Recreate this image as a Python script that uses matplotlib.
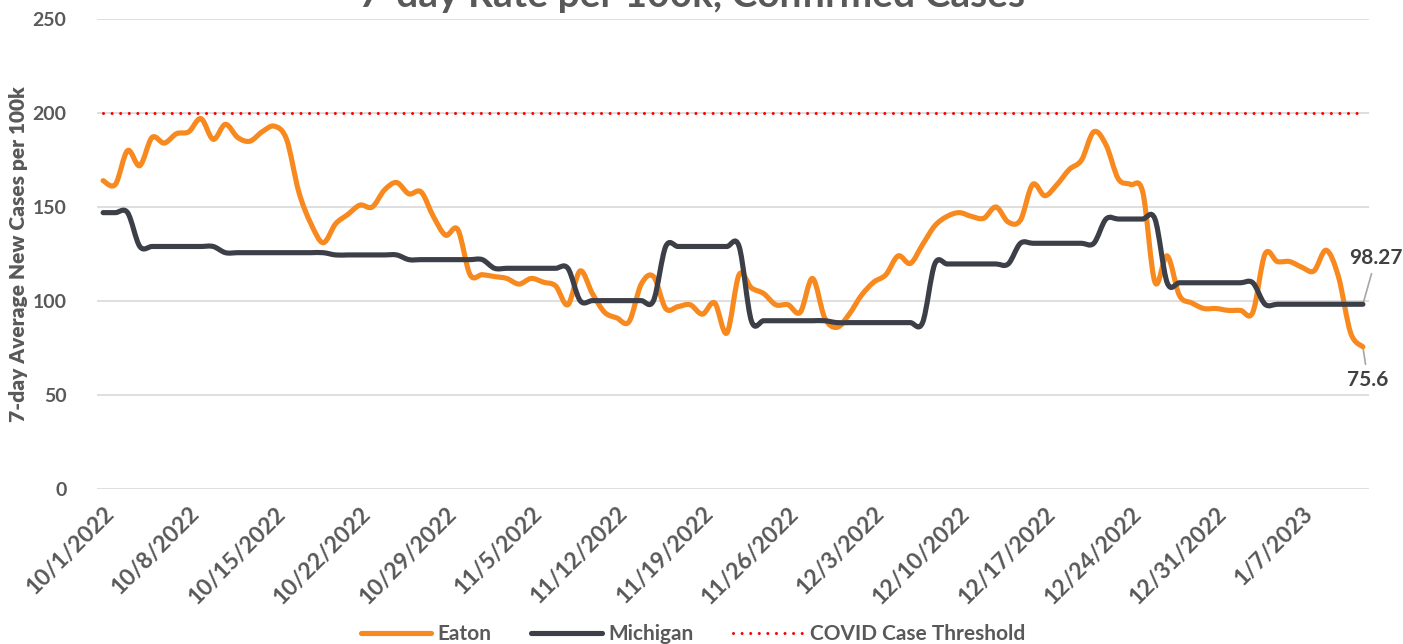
import numpy as np
import pandas as pd
import matplotlib
import matplotlib.pyplot as plt
import matplotlib.dates as mdates
from matplotlib.path import Path
from matplotlib.patches import PathPatch
from matplotlib.lines import Line2D

plt.switch_backend('agg')
plt.rcParams['font.family'] = ['Lato', 'DejaVu Sans']

# data
start_date = '2022-10-01'
eaton = [164, 162, 180, 172, 187, 184, 189, 190, 197, 186,
         194, 187, 185, 190, 193, 186, 158, 141, 131, 141,
         146, 151, 150, 159, 163, 157, 158, 145, 135, 138,
         114, 114, 113, 112, 109, 112, 110, 108, 98, 116,
         104, 94, 91, 89, 109, 113, 96, 97, 98, 93,
         99, 83, 114, 107, 104, 98, 98, 94, 112, 91,
         86, 93, 103, 110, 114, 124, 120, 130, 140, 145,
         147, 145, 144, 150, 142, 143, 162, 156, 162, 170,
         175, 190, 183, 165, 162, 158, 110, 124, 103, 99,
         96, 96, 95, 95, 94, 125, 121, 121, 118, 116,
         127, 113, 83, 75.6]
michigan = [147, 147, 147,
            129, 129, 129, 129, 129, 129, 129,
            125.7, 125.7, 125.7, 125.7, 125.7, 125.7, 125.7, 125.7, 125.7,
            124.5, 124.5, 124.5, 124.5, 124.5, 124.5,
            122, 122, 122, 122, 122, 122, 122,
            117.4, 117.4, 117.4, 117.4, 117.4, 117.4, 117.4,
            100.2, 100.2, 100.2, 100.2, 100.2, 100.2, 100.2,
            129, 129, 129, 129, 129, 129, 129,
            89.5, 89.5, 89.5, 89.5, 89.5, 89.5, 89.5,
            88.5, 88.5, 88.5, 88.5, 88.5, 88.5, 88.5, 88.5,
            119.7, 119.7, 119.7, 119.7, 119.7, 119.7, 119.7,
            130.7, 130.7, 130.7, 130.7, 130.7, 130.7, 130.7,
            143.6, 143.6, 143.6, 143.6, 143.6,
            109.7, 109.7, 109.7, 109.7, 109.7, 109.7, 109.7, 109.7,
            98.27, 98.27, 98.27, 98.27, 98.27, 98.27, 98.27, 98.27, 98.27]
threshold_value = 200
y_ticks = [0, 50, 100, 150, 200, 250]

ORANGE = '#F7891F'
DARK = '#3C3F48'
GRAY_TEXT = '#595959'


def smooth_path(x, y):
    # excel style smoothed line as cubic bezier segments
    n = len(x)
    verts = [(x[0], y[0])]
    codes = [Path.MOVETO]
    for i in range(n - 1):
        a = i - 1 if i > 0 else i
        d = i + 2 if i + 2 < n else i + 1
        c1 = (x[i] + (x[i + 1] - x[a]) / 6, y[i] + (y[i + 1] - y[a]) / 6)
        c2 = (x[i + 1] - (x[d] - x[i]) / 6, y[i + 1] - (y[d] - y[i]) / 6)
        verts += [c1, c2, (x[i + 1], y[i + 1])]
        codes += [Path.CURVE4] * 3
    return Path(verts, codes)


dates = pd.date_range(start_date, periods=len(eaton))
xs = mdates.date2num(dates.to_pydatetime())
threshold = [threshold_value] * len(eaton)

fig = plt.figure(figsize=(14.03, 6.44), dpi=100)
ax = fig.add_axes([97 / 1403, 1 - 489 / 644, (1369 - 97) / 1403, (489 - 19) / 644])

ax.add_patch(PathPatch(smooth_path(xs, eaton), fill=False, edgecolor=ORANGE,
                       lw=3.7, capstyle='round', joinstyle='round', zorder=3))
ax.add_patch(PathPatch(smooth_path(xs, michigan), fill=False, edgecolor=DARK,
                       lw=3.7, capstyle='round', joinstyle='round', zorder=4))
ax.plot(xs, threshold, color='#FF0000', lw=2.2, linestyle=(0, (0.01, 2.8)),
        dash_capstyle='round', zorder=5)

ax.set_xlim(xs[0] - 0.5, xs[-1] + 0.5)
ax.set_ylim(0, 250)
ax.set_yticks(y_ticks)
ax.yaxis.grid(True, color='#D9D9D9', lw=1.2)
ax.set_axisbelow(True)
for s in ax.spines.values():
    s.set_visible(False)

tick_dates = dates[::7]
ax.set_xticks(mdates.date2num(tick_dates.to_pydatetime()))
ax.set_xticklabels([f"{d.month}/{d.day}/{d.year}" for d in tick_dates],
                   rotation=45, ha='right', va='top', rotation_mode='anchor')
ax.tick_params(axis='both', length=0, colors=GRAY_TEXT)
ax.tick_params(axis='x', pad=10, labelsize=16.5)
ax.tick_params(axis='y', pad=22, labelsize=14)
for lab in ax.get_xticklabels() + ax.get_yticklabels():
    lab.set_fontweight('bold')

ax.set_ylabel('7-day Average New Cases per 100k', fontsize=15, fontweight='heavy',
              color=GRAY_TEXT)
ax.yaxis.set_label_coords(-0.054, 0.5)

fig.text(0.493, 1 - 7 / 644, '7-day Rate per 100k, Confirmed Cases', ha='center',
         va='baseline', fontsize=28, fontweight='bold', color=GRAY_TEXT)

# end labels
ax.annotate(f"{michigan[-1]:.2f}", xy=(xs[-1], michigan[-1]), xytext=(13, 46),
            textcoords='offset pixels', ha='center', va='center', fontsize=15,
            fontweight='bold', color='#404040', annotation_clip=False,
            arrowprops=dict(arrowstyle='-', color='#A6A6A6', lw=1.2,
                            shrinkA=2, shrinkB=2))
ax.annotate(f"{eaton[-1]:g}", xy=(xs[-1], eaton[-1]), xytext=(5, -33),
            textcoords='offset pixels', ha='center', va='center', fontsize=15,
            fontweight='bold', color='#404040', annotation_clip=False,
            arrowprops=dict(arrowstyle='-', color='#A6A6A6', lw=1.2,
                            shrinkA=2, shrinkB=2))

handles = [Line2D([], [], color=ORANGE, lw=3.7, solid_capstyle='round'),
           Line2D([], [], color=DARK, lw=3.7, solid_capstyle='round'),
           Line2D([], [], color='#FF0000', lw=2.2, linestyle=(0, (0.01, 2.8)),
                  dash_capstyle='round')]
leg = fig.legend(handles, ['Eaton', 'Michigan', 'COVID Case Threshold'],
                 loc='center', bbox_to_anchor=(0.494, 1 - 634 / 644), ncol=3,
                 frameon=False, handlelength=3.4, handletextpad=0.3,
                 columnspacing=1.9, prop={'size': 15, 'weight': 'bold'})
for t in leg.get_texts():
    t.set_color(GRAY_TEXT)

fig.savefig('out.png', dpi=100)
